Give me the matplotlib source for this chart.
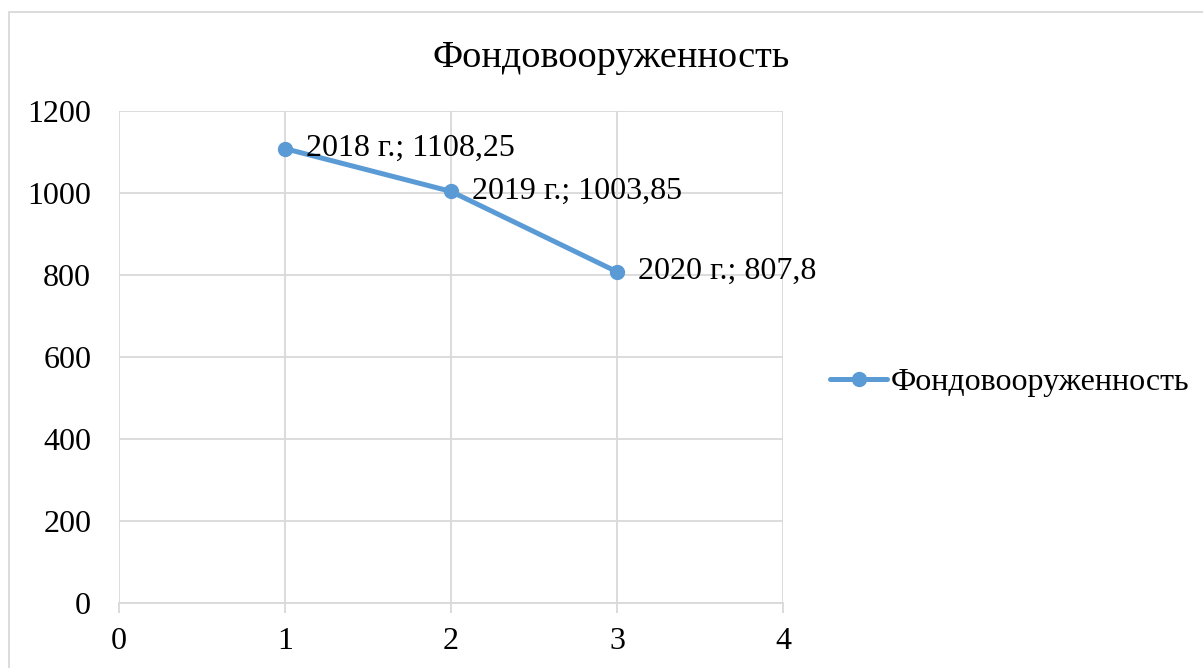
import matplotlib
matplotlib.use('Agg')
import matplotlib.pyplot as plt
from matplotlib.patches import Rectangle

plt.rcParams.update({'font.family': ['Liberation Serif', 'DejaVu Serif'], 'font.size': 23})

# данные
x_vals = [1, 2, 3]
y_vals = [1108.25, 1003.85, 807.8]
years = ['2018 г.', '2019 г.', '2020 г.']
series_name = 'Фондовооруженность'
x_ticks = [0, 1, 2, 3, 4]
y_ticks = [0, 200, 400, 600, 800, 1000, 1200]

BLUE = '#5B9BD5'
GRID = '#D9D9D9'

fig = plt.figure(figsize=(12.03, 6.68), dpi=100, facecolor='white')
W, H = 1203, 668

# рамка области диаграммы (обрезана справа и снизу)
fig.patches.append(Rectangle((9 / W, -0.1), 1.2, 1 - 12 / H + 0.1, transform=fig.transFigure,
                             fill=False, edgecolor=GRID, linewidth=1.3))

ax = fig.add_axes([119 / W, 65 / H, (783 - 119) / W, (603 - 111) / H])
ax.plot(x_vals, y_vals, color=BLUE, linewidth=3.6, marker='o', markersize=10,
        label=series_name, solid_capstyle='round')
for x, y, yr in zip(x_vals, y_vals, years):
    val = f'{y:g}'.replace('.', ',')
    ax.annotate(f'{yr}; {val}', (x, y), xytext=(15, 0), textcoords='offset points',
                ha='left', va='center', fontsize=23)

ax.set_xlim(0, 4)
ax.set_ylim(0, 1200)
ax.set_xticks(x_ticks)
ax.set_yticks(y_ticks)
ax.grid(True, color=GRID, linewidth=1.3)
ax.set_axisbelow(True)
for s in ['top', 'right', 'left']:
    ax.spines[s].set_visible(False)
ax.spines['bottom'].set_color(GRID)
ax.spines['bottom'].set_linewidth(1.3)
ax.tick_params(axis='x', length=7, width=1.3, color=GRID, pad=10, labelsize=23)
ax.tick_params(axis='y', length=0, pad=20, labelsize=23)

fig.text(611 / W, 1 - 58 / H, series_name, ha='center', va='center', fontsize=27.5)

fig.legend(loc='center left', bbox_to_anchor=(817 / W, 1 - 382 / H), frameon=False,
           fontsize=23, handlelength=1.8, handletextpad=0.1, borderaxespad=0)

fig.savefig('out.png', dpi=100, facecolor='white')
